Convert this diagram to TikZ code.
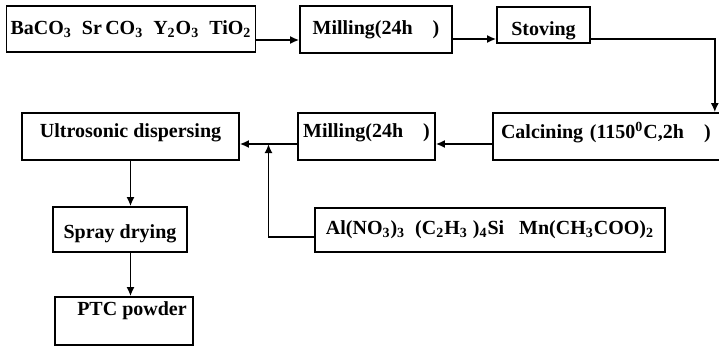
\documentclass[tikz,border=0pt]{standalone}
\usepackage{fontspec}
\setmainfont{Liberation Serif}
\usepackage{tikz}
\usetikzlibrary{arrows.meta,positioning,calc}

\tikzset{
  procbox/.style={draw,line width=0.8pt,inner sep=2pt,font=\bfseries},
  flow/.style={line width=0.9pt,-{Latex[length=4.5pt,width=4pt]}}
}

\begin{document}
\begin{tikzpicture}[x=0.5pt,y=-0.5pt,font=\fontsize{10.5}{12}\selectfont]
  \useasboundingbox (0,0) rectangle (719,348);

  % top row
  \node[procbox,minimum width=124pt,minimum height=23pt] (raw) at (131,29)
    {BaCO\textsubscript{3}\ \ Sr\,CO\textsubscript{3}\ \ Y\textsubscript{2}O\textsubscript{3}\ \ TiO\textsubscript{2}};
  \node[procbox,minimum width=76pt,minimum height=23.5pt] (mill1) at (376,29.5) {Milling(24h\quad)};
  \node[procbox,minimum width=46.5pt,minimum height=18pt] (stove) at (543.5,25)
    {\raisebox{-3pt}[\height][\depth]{Stoving}};

  % middle row
  \node[procbox,text width=108.5pt,align=left,minimum height=23.5pt,inner xsep=4pt] (calc) at (609.5,136.5)
    {\raisebox{2pt}[\height][\depth]{Calcining (1150\textsuperscript{0}C,2h\quad)}};
  \node[procbox,minimum width=68.5pt,minimum height=23.5pt,inner xsep=1pt] (mill2) at (366.5,136.5)
    {\raisebox{2pt}[\height][\depth]{Milling(24h\quad)}};
  \node[procbox,minimum width=108.5pt,minimum height=23.5pt] (ultra) at (130.5,136.5)
    {\raisebox{2pt}[\height][\depth]{Ultrosonic dispersing}};

  % additives and lower column
  \node[procbox,minimum width=175pt,minimum height=22pt] (addit) at (490,230)
    {Al(NO\textsubscript{3})\textsubscript{3}\ \ (C\textsubscript{2}H\textsubscript{3}\ )\textsubscript{4}Si\ \ \ Mn(CH\textsubscript{3}COO)\textsubscript{2}};
  \node[procbox,minimum width=67pt,minimum height=22.5pt] (spray) at (120,229.5)
    {\raisebox{-2pt}[\height][\depth]{Spray drying}\hspace{5pt}};
  \node[procbox,minimum width=69pt,inner ysep=2pt,text height=7pt,text depth=13pt] (ptc) at (124,321)
    {\hspace{8pt}PTC powder};

  \coordinate (rawout) at ([yshift=-5.5pt]raw.east);
  \coordinate (stin) at ([yshift=-7pt]stove.west);
  \coordinate (join) at ($([yshift=-3.75pt]mill2.west)!0.5!([yshift=-3.75pt]ultra.east)$);

  \draw[flow] (rawout) -- (rawout -| mill1.west);
  \draw[flow] (mill1.east |- stin) -- (stin);
  \draw[flow] ([yshift=-7pt]stove.east) -| ([xshift=-6pt]calc.north east);
  \draw[flow] ([yshift=-3.75pt]calc.west) -- ([yshift=-3.75pt]mill2.east);
  \draw[flow] ([yshift=-3.75pt]mill2.west) -- ([yshift=-3.75pt]ultra.east);
  \draw[flow] ([yshift=-3.5pt]addit.west) -| (join);
  \draw[flow] (ultra.south) -- (ultra.south |- spray.north);
  \draw[flow] (ultra.south |- spray.south) -- (ultra.south |- ptc.north);
\end{tikzpicture}
\end{document}
